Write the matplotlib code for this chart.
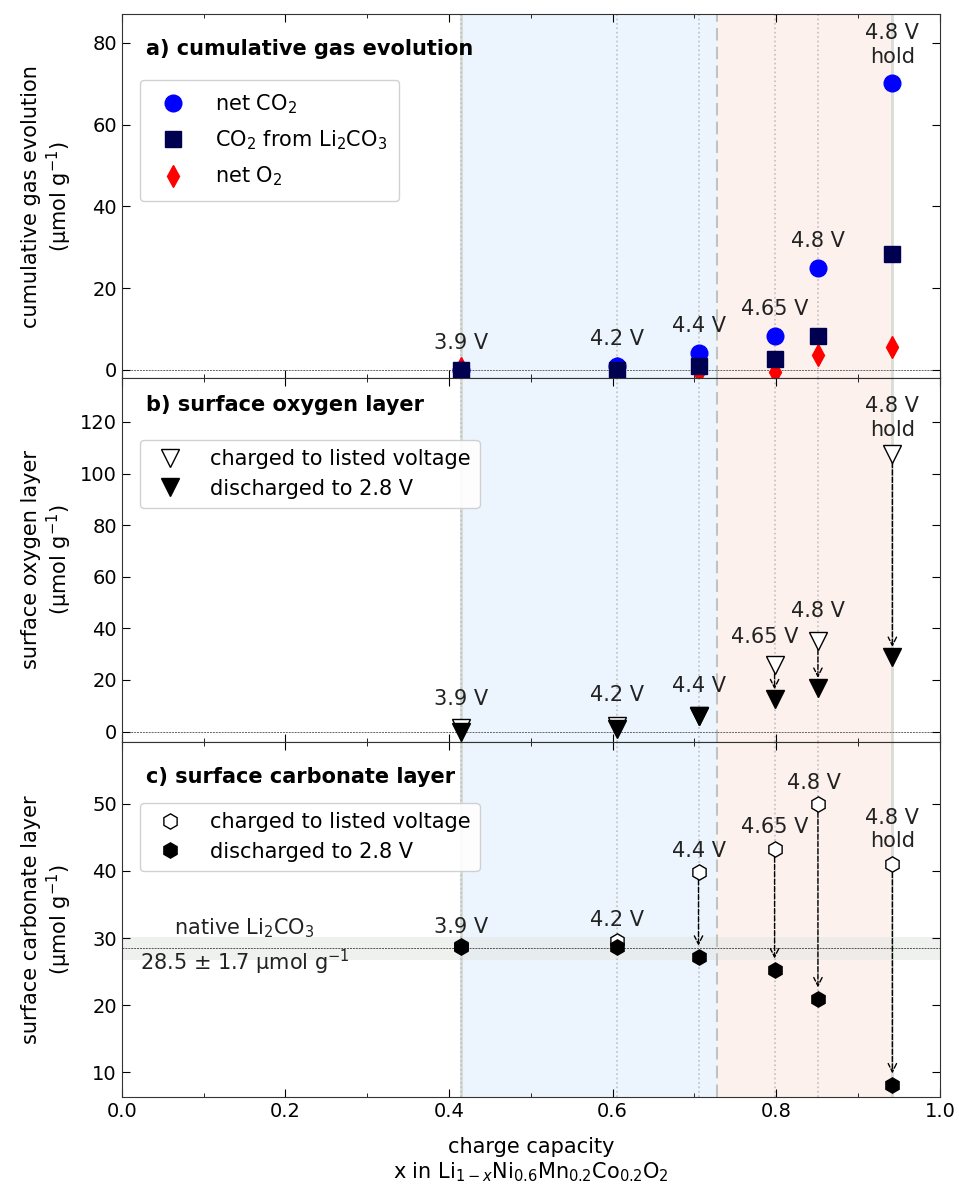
import numpy as np
import matplotlib
matplotlib.use('Agg')
import matplotlib.pyplot as plt
from matplotlib.ticker import MultipleLocator

# charge capacity for each cut-off voltage
x = [0.415, 0.605, 0.705, 0.798, 0.851, 0.942]
volt_labels = ['3.9 V', '4.2 V', '4.4 V', '4.65 V', '4.8 V', '4.8 V\nhold']
x_boundary = 0.728

# a) cumulative gas evolution (umol/g)
net_co2 = [0.0, 1.0, 4.2, 8.3, 25.0, 70.2]
co2_li2co3 = [0.0, 0.0, 1.0, 2.7, 8.3, 28.4]
net_o2 = [0.5, 0.5, -0.5, -0.5, 3.7, 5.6]

# b) surface oxygen layer (umol/g)
oxy_charged = [1.5, 2.0, 6.0, 25.7, 35.0, 107.5]
oxy_discharged = [0.0, 1.0, 6.0, 12.6, 17.0, 29.0]

# c) surface carbonate layer (umol/g)
carb_charged = [28.8, 29.6, 39.9, 43.3, 50.0, 41.0]
carb_discharged = [28.6, 28.7, 27.2, 25.3, 21.0, 8.2]
native_mean = 28.5
native_err = 1.7

# label heights (data units) for the voltage annotations
lab_a = [6.6, 7.6, 10.8, 14.9, 31.5, 79.5]
lab_b = [12.5, 14.0, 17.5, 36.6, 46.7, 121.5]
lab_c = [31.7, 32.7, 43.0, 46.6, 53.1, 46.1]
lab_c_dx = [0, 0, 0, 0, -0.005, 0]
lab_b_dx = [0, 0, 0, -0.012, 0, 0]

FS = 15
plt.rcParams['font.family'] = 'DejaVu Sans'
plt.rcParams['font.size'] = FS

fig, axes = plt.subplots(3, 1, figsize=(9.59, 11.92), sharex=True,
                         gridspec_kw={'height_ratios': [364, 364, 355]})
fig.subplots_adjust(left=0.127, right=0.980, top=0.988, bottom=0.080, hspace=0)

for ax in axes:
    ax.axvspan(x[0], x_boundary, color='#d6e9fc', alpha=0.45, lw=0, zorder=0)
    ax.axvspan(x_boundary, x[-1], color='#fbdcd6', alpha=0.4, lw=0, zorder=0)
    ax.axvline(x[0], color='#c8d0c8', lw=2, alpha=0.7, zorder=1)
    ax.axvline(x[-1], color='#c8d0c8', lw=2, alpha=0.7, zorder=1)
    for xi in x[:-1]:
        ax.axvline(xi, color='#c0c0c0', lw=1.2, ls=':', zorder=1)
    ax.axvline(x_boundary, color='#c0c4c0', lw=1.5, ls=(0, (6, 3)), zorder=1)
    ax.tick_params(direction='in', top=True, right=True, which='both', labelsize=14)
    ax.tick_params(which='major', length=6)
    ax.tick_params(which='minor', length=3)
    ax.xaxis.set_major_locator(MultipleLocator(0.2))
    ax.xaxis.set_minor_locator(MultipleLocator(0.1))
    for s in ax.spines.values():
        s.set_color('#333333')

# a) gas evolution
ax = axes[0]
ax.axhline(0, color='#666666', lw=0.7, ls=(0, (2, 1)), zorder=1)
ax.plot(x, net_co2, 'o', color='#0000ff', ms=12, ls='none', label='net CO$_2$', zorder=3)
ax.plot(x, co2_li2co3, 's', color='#000050', ms=12, ls='none', label='CO$_2$ from Li$_2$CO$_3$', zorder=4)
ax.plot(x, net_o2, 'd', color='#ff0000', ms=11, ls='none', label='net O$_2$', zorder=2)
for xi, yi, t in zip(x, lab_a, volt_labels):
    ax.text(xi, yi, t, ha='center', va='center', fontsize=FS, color='#222222')
ax.set_ylim(-2, 87)
ax.yaxis.set_major_locator(MultipleLocator(20))
ax.set_ylabel('cumulative gas evolution\n(μmol g$^{-1}$)', fontsize=FS)
ax.text(0.03, 0.905, 'a) cumulative gas evolution', transform=ax.transAxes,
        fontweight='bold', fontsize=FS, va='center')
ax.legend(loc='upper left', bbox_to_anchor=(0.022, 0.819), borderaxespad=0, fontsize=FS,
          borderpad=0.6, labelspacing=0.6, handletextpad=1.0, framealpha=0.9)

# b) surface oxygen
ax = axes[1]
ax.axhline(0, color='#666666', lw=0.7, ls=(0, (2, 1)), zorder=1)
ax.plot(x, oxy_charged, 'v', mfc='white', mec='black', ms=13, ls='none',
        label='charged to listed voltage', zorder=3)
ax.plot(x, oxy_discharged, 'v', color='black', ms=13, ls='none',
        label='discharged to 2.8 V', zorder=4)
for i in range(3, 6):
    ax.annotate('', xy=(x[i], oxy_discharged[i]), xytext=(x[i], oxy_charged[i]),
                arrowprops=dict(arrowstyle='->', ls='--', color='black', lw=1,
                                shrinkA=6, shrinkB=7), zorder=2)
for xi, yi, t, dx in zip(x, lab_b, volt_labels, lab_b_dx):
    ax.text(xi + dx, yi, t, ha='center', va='center', fontsize=FS, color='#222222')
ax.set_ylim(-4, 137)
ax.yaxis.set_major_locator(MultipleLocator(20))
ax.set_ylabel('surface oxygen layer\n(μmol g$^{-1}$)', fontsize=FS)
ax.text(0.03, 0.926, 'b) surface oxygen layer', transform=ax.transAxes,
        fontweight='bold', fontsize=FS, va='center')
ax.legend(loc='upper left', bbox_to_anchor=(0.022, 0.83), borderaxespad=0, fontsize=FS,
          borderpad=0.45, labelspacing=0.45, handletextpad=0.9, framealpha=0.9)

# c) surface carbonate
ax = axes[2]
ax.axhspan(native_mean - native_err, native_mean + native_err, color='#e4e8e4',
           alpha=0.6, lw=0, zorder=0.5)
ax.axhline(native_mean, color='#555555', lw=0.7, ls=(0, (2, 1)), zorder=1)
ax.plot(x, carb_charged, 'h', mfc='white', mec='black', ms=11, ls='none',
        label='charged to listed voltage', zorder=3)
ax.plot(x, carb_discharged, 'h', color='black', ms=11, ls='none',
        label='discharged to 2.8 V', zorder=4)
for i in range(2, 6):
    ax.annotate('', xy=(x[i], carb_discharged[i]), xytext=(x[i], carb_charged[i]),
                arrowprops=dict(arrowstyle='->', ls='--', color='black', lw=1,
                                shrinkA=6, shrinkB=8), zorder=2)
for xi, yi, t, dx in zip(x, lab_c, volt_labels, lab_c_dx):
    ax.text(xi + dx, yi, t, ha='center', va='center', fontsize=FS, color='#222222')
ax.text(0.15, 31.5, 'native Li$_2$CO$_3$', ha='center', va='center', fontsize=FS, color='#222222')
ax.text(0.15, 26.4, '28.5 ± 1.7 μmol g$^{-1}$', ha='center', va='center', fontsize=FS, color='#222222')
ax.set_ylim(6.4, 59.2)
ax.yaxis.set_major_locator(MultipleLocator(10))
ax.set_ylabel('surface carbonate layer\n(μmol g$^{-1}$)', fontsize=FS)
ax.text(0.03, 0.90, 'c) surface carbonate layer', transform=ax.transAxes,
        fontweight='bold', fontsize=FS, va='center')
ax.legend(loc='upper left', bbox_to_anchor=(0.022, 0.828), borderaxespad=0, fontsize=FS,
          borderpad=0.45, labelspacing=0.45, handletextpad=0.9, framealpha=0.9)

ax.set_xlim(0, 1)
ax.set_xlabel('charge capacity\nx in Li$_{1-x}$Ni$_{0.6}$Mn$_{0.2}$Co$_{0.2}$O$_2$',
              fontsize=FS, labelpad=12)

fig.align_ylabels(axes)
fig.savefig('out.png', dpi=100)
